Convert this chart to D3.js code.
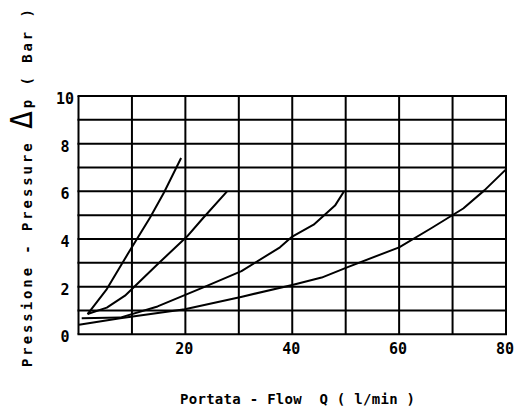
<!DOCTYPE html>
<html>
<head>
<meta charset="utf-8">
<script src="https://cdn.jsdelivr.net/npm/d3@7"></script>
<style>
  html, body { margin: 0; padding: 0; background: #fff; }
  svg text { font-family: "DejaVu Sans Mono", monospace; font-weight: bold; fill: #000; }
</style>
</head>
<body>
<svg id="chart" width="515" height="415"></svg>
<script>
// ---- data ----
const xTickLabels = [20, 40, 60, 80];
const yTickLabels = [0, 2, 4, 6, 8, 10];

const flowA = [1.7, 5.3, 9.3, 13.4, 16, 19.2];
const dpA   = [0.85, 1.9, 3.4, 4.9, 5.95, 7.4];

const flowB = [1.7, 5.3, 8.7, 14.6, 20.3, 23.2, 27.8];
const dpB   = [0.85, 1.12, 1.62, 2.9, 4.1, 4.85, 6.0];

const flowC = [0.6, 7.8, 14.8, 23.7, 30.5, 37.7, 40, 44, 48, 49.7];
const dpC   = [0.67, 0.7, 1.17, 2.0, 2.65, 3.65, 4.1, 4.6, 5.4, 6.0];

const flowD = [0.1, 7.8, 19.9, 30.6, 40, 45.5, 50.5, 60, 66, 72, 76, 80];
const dpD   = [0.4, 0.67, 1.05, 1.58, 2.07, 2.38, 2.83, 3.65, 4.45, 5.28, 6.05, 6.92];

const seriesList = [[flowA, dpA], [flowB, dpB], [flowC, dpC], [flowD, dpD]];

// ---- layout ----
const svg = d3.select("#chart");
const plotLeft = 78.5, plotRight = 506, plotTop = 96, plotBottom = 334.3;

const x = d3.scaleLinear().domain([0, 80]).range([plotLeft, plotRight]);
const y = d3.scaleLinear().domain([0, 10]).range([plotBottom, plotTop]);

const g = svg.append("g");

// grid
g.selectAll("line.vg").data(d3.range(0, 81, 10)).enter().append("line")
  .attr("x1", d => x(d)).attr("x2", d => x(d))
  .attr("y1", y(0)).attr("y2", y(10))
  .attr("stroke", "#000").attr("stroke-width", 2);

g.selectAll("line.hg").data(d3.range(0, 11, 1)).enter().append("line")
  .attr("x1", x(0) - 1).attr("x2", x(80) + 1)
  .attr("y1", d => y(d)).attr("y2", d => y(d))
  .attr("stroke", "#000").attr("stroke-width", 2);

// tick labels
g.selectAll("text.xt").data(xTickLabels).enter().append("text")
  .attr("x", d => x(d) - 1).attr("y", plotBottom + 20)
  .attr("text-anchor", "middle").attr("font-size", 15)
  .text(d => d);

g.selectAll("text.yt").data(yTickLabels).enter().append("text")
  .attr("x", 65).attr("y", d => y(d) + 8)
  .attr("text-anchor", "middle").attr("font-size", 15)
  .text(d => d);

// curves
const line = d3.line().x(d => x(d[0])).y(d => y(d[1]));
seriesList.forEach(([fx, fy]) => {
  g.append("path")
    .datum(fx.map((v, i) => [v, fy[i]]))
    .attr("d", line)
    .attr("fill", "none").attr("stroke", "#000")
    .attr("stroke-width", 2).attr("stroke-linejoin", "round");
});

// x-axis title
svg.append("text")
  .attr("x", 180).attr("y", 404)
  .attr("font-size", 14)
  .style("white-space", "pre")
  .attr("textLength", 235).attr("lengthAdjust", "spacing")
  .text("Portata - Flow  Q ( l/min )");

// y-axis title (rotated)
const yt = svg.append("text")
  .attr("transform", "translate(32,367) rotate(-90)")
  .attr("font-size", 14)
  .attr("letter-spacing", 2.9);
yt.append("tspan").text("Pressione - Pressure ");
yt.append("tspan").attr("font-size", 30).attr("font-weight", "normal").text("\u0394");
yt.append("tspan").text("p ( Bar )");
</script>
</body>
</html>
